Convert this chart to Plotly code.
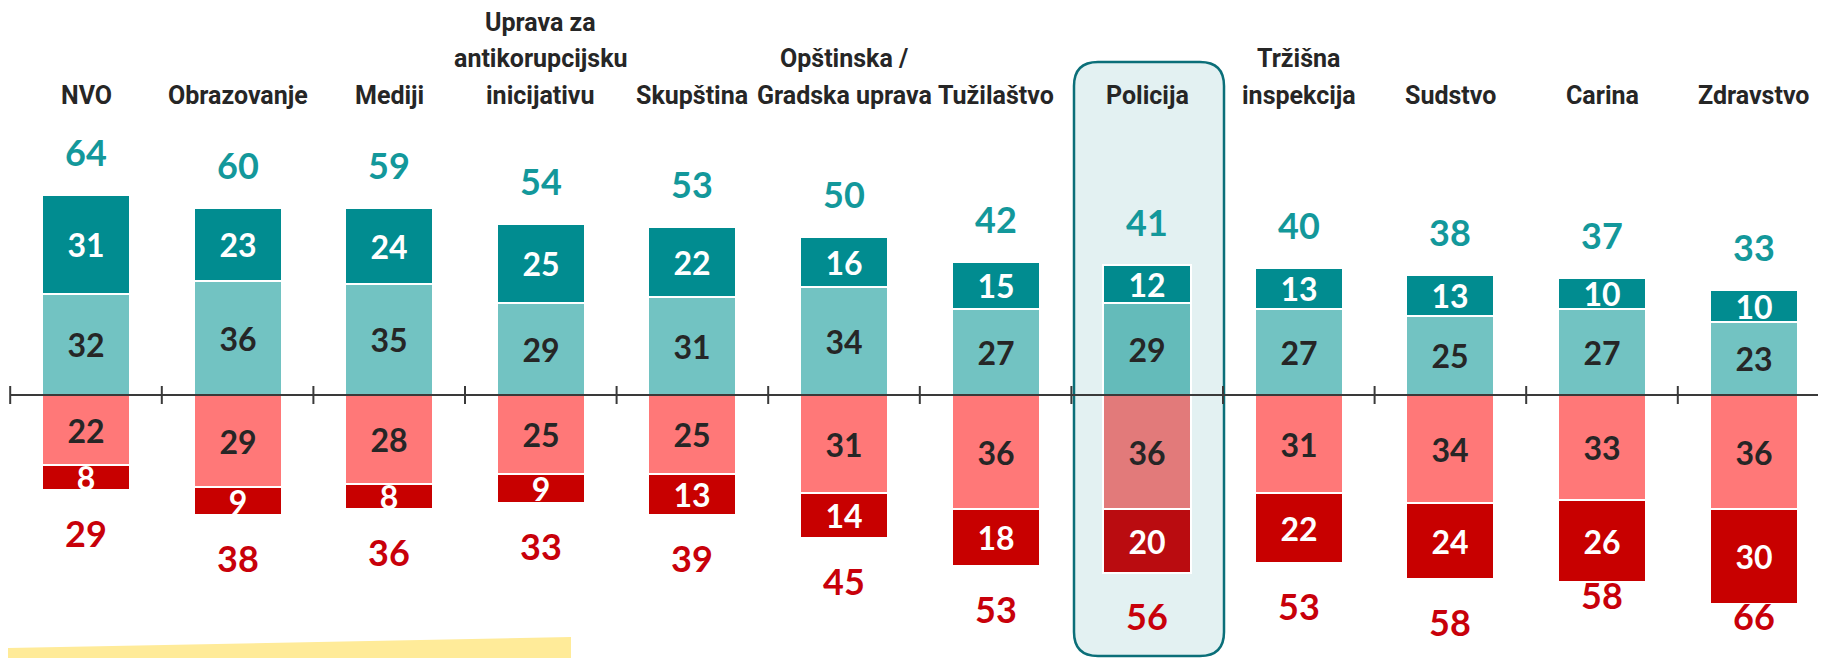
import plotly.graph_objects as go

# ---------------- data ----------------
categories = ["NVO", "Obrazovanje", "Mediji", "Uprava za\nantikorupcijsku\ninicijativu",
              "Skupština", "Opštinska /\nGradska uprava", "Tužilaštvo", "Policija",
              "Tržišna\ninspekcija", "Sudstvo", "Carina", "Zdravstvo"]
strong_pos = [31, 23, 24, 25, 22, 16, 15, 12, 13, 13, 10, 10]
mild_pos = [32, 36, 35, 29, 31, 34, 27, 29, 27, 25, 27, 23]
mild_neg = [22, 29, 28, 25, 25, 31, 36, 36, 31, 34, 33, 36]
strong_neg = [8, 9, 8, 9, 13, 14, 18, 20, 22, 24, 26, 30]
total_pos = [64, 60, 59, 54, 53, 50, 42, 41, 40, 38, 37, 33]
total_neg = [29, 38, 36, 33, 39, 45, 53, 56, 53, 58, 58, 66]
highlight = "Policija"

# ---------------- style ----------------
W, H = 1826, 658
OFF = 8  # page body margin: figure pixel = screen pixel - OFF
C_DARK_TEAL = "#018C90"
C_LIGHT_TEAL = "#72C3C2"
C_PINK = "#FF7878"
C_DARK_RED = "#C80000"
HL_COLORS = {"dt": "#018A8E", "lt": "#64BBBA", "pk": "#E27A7A", "dr": "#BA0C10"}
NUM_FONT = "Lato, Open Sans, sans-serif"
LBL_FONT = "Liberation Sans Narrow, Arial Narrow, Roboto, sans-serif"
neg_label_shift = {"Carina": 13, "Zdravstvo": 12}

n = len(categories)
xs = list(range(n))
hi = categories.index(highlight)


def colors(base, key):
    return [HL_COLORS[key] if i == hi else base for i in range(n)]


def bar(vals, sign, color, key, txtcolor):
    return go.Bar(
        x=xs, y=[sign * v for v in vals], text=[str(v) for v in vals],
        textposition="inside", insidetextanchor="middle", constraintext="none",
        textangle=0, cliponaxis=False,
        textfont=dict(family=NUM_FONT, size=32, weight="bold", color=txtcolor),
        marker=dict(color=colors(color, key), line=dict(color="white", width=2)),
        width=0.58, hoverinfo="skip", showlegend=False,
    )


fig = go.Figure()
fig.add_trace(bar(mild_pos, 1, C_LIGHT_TEAL, "lt", "#262626"))
fig.add_trace(bar(strong_pos, 1, C_DARK_TEAL, "dt", "white"))
fig.add_trace(bar(mild_neg, -1, C_PINK, "pk", "#262626"))
fig.add_trace(bar(strong_neg, -1, C_DARK_RED, "dr", "white"))

# scales (screen pixels of the reference, minus page offset)
ppu = 3.17
y_zero_px = 395 - OFF
ymax = y_zero_px / ppu
ymin = -(H - y_zero_px) / ppu
cat_w = 151.6
xmin = -(86 - OFF) / cat_w
xmax = xmin + W / cat_w


def py(y_screen):
    return 1 - (y_screen - OFF) / H


def pxp(x_screen):
    return (x_screen - OFF) / W


annotations = []
line_gap = 36.7
for i, cat in enumerate(categories):
    lines = cat.split("\n")
    for j, ln in enumerate(reversed(lines)):
        annotations.append(dict(
            x=i, y=py(95.5 - j * line_gap), xref="x", yref="paper", yanchor="middle",
            xanchor="center", text=ln, showarrow=False,
            font=dict(family=LBL_FONT, size=25, weight="bold", color="#262626")))
    top = mild_pos[i] + strong_pos[i]
    annotations.append(dict(
        x=i, y=top, xref="x", yref="y", yshift=43, yanchor="middle",
        text=str(total_pos[i]), showarrow=False,
        font=dict(family=NUM_FONT, size=36, weight="bold", color="#13989B")))
    bot = -(mild_neg[i] + strong_neg[i])
    annotations.append(dict(
        x=i, y=bot, xref="x", yref="y", yshift=-neg_label_shift.get(cat, 43), yanchor="middle",
        text=str(total_neg[i]), showarrow=False,
        font=dict(family=NUM_FONT, size=36, weight="bold", color="#C8000A")))


def rounded_path(x0, y0, x1, y1, r):
    cmds = [("M", x0 + r, y0), ("L", x1 - r, y0), ("Q", x1, y0, x1, y0 + r),
            ("L", x1, y1 - r), ("Q", x1, y1, x1 - r, y1), ("L", x0 + r, y1),
            ("Q", x0, y1, x0, y1 - r), ("L", x0, y0 + r), ("Q", x0, y0, x0 + r, y0)]
    parts = []
    for c in cmds:
        if c[0] == "Q":
            parts.append(f"Q {pxp(c[1]):.5f},{py(c[2]):.5f} {pxp(c[3]):.5f},{py(c[4]):.5f}")
        else:
            parts.append(f"{c[0]} {pxp(c[1]):.5f},{py(c[2]):.5f}")
    return " ".join(parts) + " Z"


shapes = []
# highlight box
shapes.append(dict(type="path", xref="paper", yref="paper", layer="below",
                   path=rounded_path(1074, 62, 1224, 656, 24),
                   fillcolor="#E3F1F2", line=dict(color="#0B6F79", width=2.5)))
# yellow note strip at bottom-left
pts = [(OFF, 648), (571, 637), (571, 670), (OFF, 670)]
shapes.append(dict(type="path", xref="paper", yref="paper", layer="below",
                   path="M " + " L ".join(f"{pxp(a):.5f},{py(b):.5f}" for a, b in pts) + " Z",
                   fillcolor="#FFEB99", line=dict(width=0)))
# zero axis line with boundary ticks
shapes.append(dict(type="line", xref="x", yref="y", x0=-0.5, x1=xmax, y0=0, y1=0,
                   layer="above", line=dict(color="#3A3A3A", width=2)))
for i in range(n + 1):
    shapes.append(dict(type="line", xref="x", yref="y", x0=i - 0.5, x1=i - 0.5,
                       ysizemode="pixel", yanchor=0, y0=-9, y1=9, layer="above",
                       line=dict(color="#3A3A3A", width=2)))

fig.update_layout(
    width=W, height=H, margin=dict(l=0, r=0, t=0, b=0),
    paper_bgcolor="white", plot_bgcolor="rgba(0,0,0,0)",
    barmode="relative", bargap=0,
    xaxis=dict(range=[xmin, xmax], visible=False, fixedrange=True),
    yaxis=dict(range=[ymin, ymax], visible=False, fixedrange=True),
    annotations=annotations, shapes=shapes, showlegend=False,
)
fig.write_html("out.html")
